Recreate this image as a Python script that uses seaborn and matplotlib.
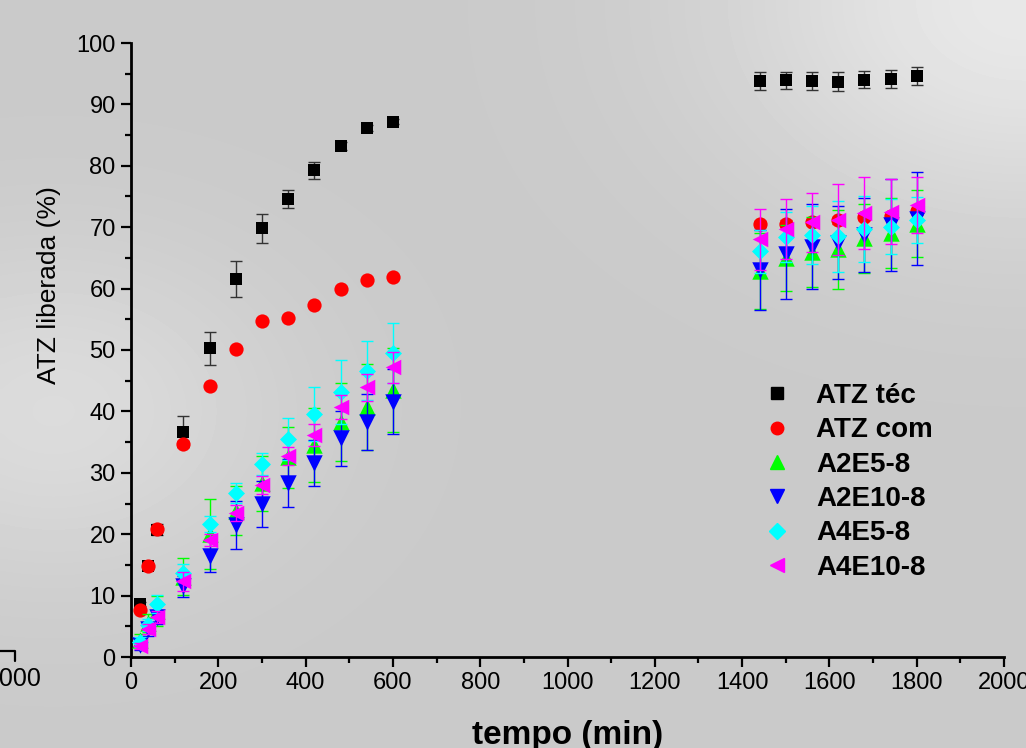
import matplotlib
matplotlib.use("Agg")
import matplotlib.pyplot as plt
import matplotlib.ticker as mticker
from matplotlib.lines import Line2D
import numpy as np
import pandas as pd
import seaborn as sns

# ─────────────────────────────────────────────────────────────
# Data (tempo in min, ATZ liberada in %)
# ─────────────────────────────────────────────────────────────
tempo = [20, 40, 60, 120, 180, 240, 300, 360, 420, 480, 540, 600,
         1440, 1500, 1560, 1620, 1680, 1740, 1800]

atz_tec = [8.6, 14.8, 20.7, 36.7, 50.3, 61.6, 69.8, 74.6, 79.3, 83.2, 86.1, 87.2,
           93.8, 93.9, 93.8, 93.7, 94.0, 94.1, 94.6]
atz_tec_err = [0.3, 0.4, 0.9, 2.5, 2.7, 2.9, 2.4, 1.4, 1.4, 0.6, 0.5, 0.4,
               1.4, 1.4, 1.5, 1.5, 1.4, 1.5, 1.5]

atz_com = [7.7, 14.8, 20.8, 34.7, 44.1, 50.2, 54.8, 55.2, 57.3, 60.0, 61.4, 61.9,
           70.5, 70.6, 70.8, 71.1, 71.7, 71.8, 72.7]
atz_com_err = [0.3, 0.4, 0.5, 0.5, 0.3, 0.3, 0.3, 0.3, 0.3, 0.3, 0.3, 0.3,
               0.5, 0.5, 0.5, 0.5, 0.5, 0.5, 0.5]

a2e5 = [2.8, 5.5, 7.5, 13.1, 20.0, 23.8, 28.3, 32.5, 34.5, 38.3, 40.7, 43.5,
        62.8, 65.0, 66.0, 66.4, 68.2, 69.0, 70.6]
a2e5_err = [1.0, 1.5, 2.5, 3.0, 5.7, 4.0, 4.5, 5.0, 6.0, 6.4, 7.0, 6.9,
            6.2, 5.4, 5.7, 6.4, 5.6, 5.7, 5.4]

a2e10 = [2.0, 4.5, 6.5, 11.5, 16.4, 21.5, 24.9, 28.4, 31.6, 35.6, 38.3, 41.6,
         63.0, 65.6, 66.8, 67.5, 68.7, 70.4, 71.4]
a2e10_err = [0.8, 1.0, 1.2, 1.7, 2.6, 3.9, 3.7, 3.9, 3.8, 4.5, 4.6, 5.3,
             6.5, 7.3, 6.9, 5.9, 6.0, 7.5, 7.6]

a4e5 = [2.5, 5.2, 8.6, 13.7, 21.6, 26.7, 31.5, 35.5, 39.5, 43.1, 46.6, 49.5,
        66.1, 68.4, 68.7, 68.5, 69.7, 70.1, 71.2]
a4e5_err = [0.8, 1.0, 1.5, 1.5, 1.3, 1.6, 1.8, 3.4, 4.4, 5.2, 4.8, 4.9,
            3.5, 4.0, 4.7, 5.8, 5.4, 4.5, 3.7]

a4e10 = [1.8, 4.5, 6.5, 12.3, 19.1, 23.5, 28.0, 32.7, 36.2, 40.7, 43.9, 47.2,
         68.0, 69.7, 70.8, 71.2, 72.3, 72.5, 73.6]
a4e10_err = [0.5, 0.8, 1.0, 1.5, 1.0, 1.3, 1.5, 1.5, 1.8, 2.0, 2.2, 2.5,
             4.9, 4.9, 4.8, 5.8, 5.8, 5.3, 4.5]

series_names = ["ATZ téc", "ATZ com", "A2E5-8", "A2E10-8", "A4E5-8", "A4E10-8"]
series_vals = [atz_tec, atz_com, a2e5, a2e10, a4e5, a4e10]
series_errs = [atz_tec_err, atz_com_err, a2e5_err, a2e10_err, a4e5_err, a4e10_err]

# ─────────────────────────────────────────────────────────────
# Style
# ─────────────────────────────────────────────────────────────
COLORS  = ["#000000", "#FF0000", "#00FF00", "#0000FF", "#00FFFF", "#FF00FF"]
ERRCOL  = ["#333333", "#FF0000", "#00FF00", "#0000FF", "#00FFFF", "#FF00FF"]
MARKERS = ["s", "o", "^", "v", "D", "<"]
SIZES   = [85, 105, 140, 140, 75, 125]

sns.set_theme(style="ticks")
plt.rcParams["font.family"] = ["Liberation Sans", "DejaVu Sans"]
plt.rcParams["text.color"] = "black"
plt.rcParams["axes.labelcolor"] = "black"

fig = plt.figure(figsize=(10.26, 7.48), dpi=100)
fig.patch.set_facecolor("#cccccc")

# soft grey background, lighter top-right and left
bg = fig.add_axes([0, 0, 1, 1], zorder=-10)
gx, gy = np.meshgrid(np.linspace(0, 1, 200), np.linspace(0, 1, 150))
shade = 0.79 + 0.12 * np.exp(-((gx - 1.0) ** 2 + (gy - 1.0) ** 2) / 0.08) \
             + 0.07 * np.exp(-((gx - 0.05) ** 2 + (gy - 0.45) ** 2) / 0.05)
bg.imshow(shade, cmap="gray", vmin=0, vmax=1, origin="lower",
          extent=[0, 1, 0, 1], aspect="auto", interpolation="bicubic")
bg.axis("off")

ax = fig.add_axes([131 / 1026, 1 - 657 / 748, 873 / 1026, 614 / 748])
ax.set_facecolor("none")

df = pd.DataFrame({"tempo": tempo})
for i, (name, vals, errs) in enumerate(zip(series_names, series_vals, series_errs)):
    ax.errorbar(tempo, vals, yerr=errs, fmt="none", ecolor=ERRCOL[i],
                elinewidth=1.0, capsize=4.5, capthick=1.0, zorder=2 + 2 * i)
    df[name] = vals
    sns.scatterplot(data=df, x="tempo", y=name, ax=ax, color=COLORS[i],
                    marker=MARKERS[i], s=SIZES[i], linewidth=0,
                    legend=False, zorder=3 + 2 * i)

ax.set_xlim(0, 2000)
ax.set_ylim(0, 100)
ax.xaxis.set_major_locator(mticker.MultipleLocator(200))
ax.xaxis.set_minor_locator(mticker.MultipleLocator(100))
ax.yaxis.set_major_locator(mticker.MultipleLocator(10))
ax.yaxis.set_minor_locator(mticker.MultipleLocator(5))

sns.despine(ax=ax)
for s in ["left", "bottom"]:
    ax.spines[s].set_linewidth(2)
    ax.spines[s].set_color("black")
ax.tick_params(which="major", direction="out", length=7, width=1.6,
               labelsize=17, colors="black", pad=4)
ax.tick_params(which="minor", direction="out", length=4, width=1.6, colors="black")

ax.set_xlabel("tempo (min)", fontsize=24, fontweight="bold", color="black")
ax.xaxis.set_label_coords(0.5, -0.103)
ax.set_ylabel("ATZ liberada (%)", fontsize=19, color="black")
ax.yaxis.set_label_coords(-0.080, 0.606)

# legend
handles = [Line2D([0], [0], linestyle="none", marker=m, color=c, markersize=ms)
           for m, c, ms in zip(MARKERS, COLORS, [8, 9, 10, 10, 8, 10])]
leg = ax.legend(handles, series_names, loc="upper left",
                bbox_to_anchor=(730 / 1026, 1 - 358 / 748),
                bbox_transform=fig.transFigure, frameon=False,
                prop={"size": 20, "weight": "bold"}, handletextpad=0.6,
                labelspacing=0.3, handlelength=1.6)
for t in leg.get_texts():
    t.set_color("black")

# fragment of a neighbouring panel at the left edge
fig.text(42 / 1026, 1 - 679 / 748, "2000", ha="right", va="center", fontsize=18)
fig.add_artist(Line2D([0, 15 / 1026, 15 / 1026],
                      [1 - 651 / 748, 1 - 651 / 748, 1 - 661 / 748],
                      transform=fig.transFigure, color="black", linewidth=1.6))

fig.savefig("out.png", dpi=100, facecolor=fig.get_facecolor())
